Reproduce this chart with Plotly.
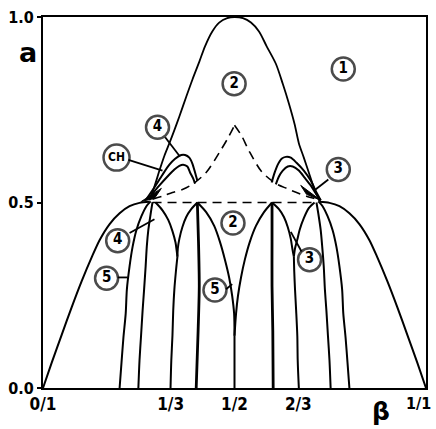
import plotly.graph_objects as go

# ---- phase boundaries in the (beta, a) plane ----
# outer boundary of region 1 below a = 1/2
outer_left_beta = [0.000, 0.023, 0.049, 0.075, 0.101, 0.127, 0.148, 0.174, 0.200, 0.226, 0.252, 0.278]
outer_left_a = [0.000, 0.069, 0.144, 0.218, 0.288, 0.352, 0.399, 0.442, 0.471, 0.490, 0.499, 0.502]
outer_right_beta = [0.722, 0.748, 0.774, 0.800, 0.826, 0.852, 0.873, 0.899, 0.925, 0.951, 0.977, 1.000]
outer_right_a = [0.502, 0.499, 0.490, 0.471, 0.442, 0.399, 0.352, 0.288, 0.218, 0.144, 0.069, 0.000]

# bell-shaped boundary of region 2 above a = 1/2
bell_beta = [0.278, 0.291, 0.304, 0.317, 0.330, 0.343, 0.356, 0.374, 0.390, 0.408, 0.423, 0.442, 0.460,
             0.481, 0.500, 0.522, 0.543, 0.564, 0.584, 0.608, 0.626, 0.642, 0.657, 0.668, 0.681, 0.694,
             0.709, 0.722]
bell_a = [0.506, 0.543, 0.586, 0.626, 0.660, 0.695, 0.732, 0.785, 0.831, 0.879, 0.921, 0.961, 0.985,
          0.997, 1.000, 0.997, 0.985, 0.961, 0.921, 0.874, 0.820, 0.767, 0.711, 0.660, 0.621, 0.581,
          0.535, 0.503]

# dashed cusp curve and dashed line a = 1/2
cusp_left_beta = [0.286, 0.312, 0.338, 0.364, 0.390, 0.426, 0.460, 0.483, 0.500]
cusp_left_a = [0.509, 0.517, 0.527, 0.535, 0.549, 0.581, 0.634, 0.674, 0.708]
cusp_right_beta = [0.500, 0.519, 0.538, 0.571, 0.608, 0.636, 0.662, 0.688, 0.714]
cusp_right_a = [0.708, 0.679, 0.639, 0.583, 0.551, 0.538, 0.527, 0.517, 0.509]
half_beta = [0.286, 0.714]
half_a = [0.500, 0.500]

# lines leaving the a = 0 axis at the rationals
line15_beta = [0.200, 0.205, 0.210, 0.216, 0.219, 0.226, 0.234, 0.244, 0.257, 0.270, 0.281]
line15_a = [0.000, 0.069, 0.136, 0.202, 0.266, 0.328, 0.381, 0.426, 0.463, 0.490, 0.503]
line14_beta = [0.249, 0.252, 0.256, 0.260, 0.264, 0.268, 0.271, 0.275, 0.281, 0.286]
line14_a = [0.000, 0.075, 0.141, 0.208, 0.266, 0.328, 0.381, 0.426, 0.469, 0.501]
trunk13_beta = [0.333, 0.335, 0.338, 0.340, 0.343, 0.347, 0.351]
trunk13_a = [0.000, 0.075, 0.141, 0.208, 0.266, 0.314, 0.354]
v13_left_beta = [0.294, 0.312, 0.327, 0.338, 0.346, 0.349, 0.351]
v13_left_a = [0.500, 0.479, 0.453, 0.423, 0.392, 0.370, 0.354]
line25_beta = [0.400, 0.405, 0.408, 0.406, 0.403]
line25_a = [0.000, 0.154, 0.274, 0.394, 0.500]
arch25_left_beta = [0.403, 0.387, 0.374, 0.364, 0.356, 0.352, 0.351]
arch25_left_a = [0.500, 0.482, 0.461, 0.434, 0.402, 0.376, 0.354]
arch25_right_beta = [0.403, 0.426, 0.447, 0.462, 0.475, 0.486, 0.494, 0.499, 0.500]
arch25_right_a = [0.500, 0.474, 0.437, 0.394, 0.346, 0.298, 0.248, 0.200, 0.141]
trunk12_beta = [0.500, 0.500]
trunk12_a = [0.000, 0.141]
arch35_left_beta = [0.598, 0.577, 0.556, 0.540, 0.527, 0.517, 0.509, 0.504, 0.500]
arch35_left_a = [0.500, 0.474, 0.437, 0.394, 0.346, 0.298, 0.248, 0.200, 0.141]
line35_beta = [0.601, 0.600, 0.598, 0.598, 0.598]
line35_a = [0.000, 0.154, 0.274, 0.394, 0.500]
arch35_right_beta = [0.598, 0.616, 0.629, 0.639, 0.647, 0.651, 0.655]
arch35_right_a = [0.500, 0.482, 0.461, 0.434, 0.402, 0.376, 0.354]
trunk23_beta = [0.668, 0.665, 0.664, 0.661, 0.658, 0.656, 0.655]
trunk23_a = [0.000, 0.075, 0.141, 0.208, 0.266, 0.314, 0.354]
v23_right_beta = [0.655, 0.658, 0.664, 0.670, 0.681, 0.694, 0.709]
v23_right_a = [0.354, 0.376, 0.400, 0.426, 0.458, 0.485, 0.500]
line34_beta = [0.751, 0.748, 0.744, 0.740, 0.736, 0.733, 0.729, 0.725, 0.719, 0.714]
line34_a = [0.000, 0.075, 0.141, 0.208, 0.266, 0.328, 0.381, 0.426, 0.469, 0.500]
line45_beta = [0.800, 0.795, 0.790, 0.784, 0.781, 0.774, 0.766, 0.756, 0.743, 0.730, 0.719]
line45_a = [0.000, 0.069, 0.136, 0.202, 0.266, 0.328, 0.381, 0.426, 0.463, 0.490, 0.503]

# small lobes above a = 1/2 (regions 3, 4 and CH)
lobe_lo_beta = [0.270, 0.291, 0.312, 0.330, 0.345, 0.361, 0.371, 0.382, 0.390, 0.397, 0.403]
lobe_lo_a = [0.509, 0.541, 0.575, 0.602, 0.618, 0.628, 0.628, 0.621, 0.605, 0.581, 0.559]
lobe_li_beta = [0.278, 0.304, 0.325, 0.343, 0.356, 0.366, 0.377, 0.384, 0.392, 0.397]
lobe_li_a = [0.514, 0.546, 0.570, 0.589, 0.599, 0.602, 0.597, 0.581, 0.565, 0.551]
lobe_ro_beta = [0.597, 0.605, 0.613, 0.623, 0.634, 0.647, 0.662, 0.681, 0.699, 0.714, 0.725]
lobe_ro_a = [0.554, 0.581, 0.602, 0.618, 0.623, 0.621, 0.607, 0.586, 0.559, 0.527, 0.506]
lobe_ri_beta = [0.608, 0.616, 0.626, 0.639, 0.652, 0.668, 0.683, 0.699, 0.714, 0.725]
lobe_ri_a = [0.549, 0.570, 0.586, 0.597, 0.597, 0.586, 0.567, 0.546, 0.522, 0.506]
wedge_left_beta = [0.257, 0.309, 0.291, 0.257]
wedge_left_a = [0.503, 0.538, 0.511, 0.503]
wedge_right_beta = [0.673, 0.725, 0.688, 0.673]
wedge_right_a = [0.546, 0.506, 0.522, 0.546]

# circled region labels
label_text = ["1", "2", "4", "CH", "3", "4", "2", "5", "5", "3"]
label_beta = [0.784, 0.499, 0.299, 0.192, 0.771, 0.195, 0.496, 0.166, 0.449, 0.696]
label_a = [0.860, 0.820, 0.703, 0.621, 0.589, 0.397, 0.445, 0.296, 0.264, 0.346]
# leader lines: (beta0, a0, beta1, a1)
leaders = [
    (0.319, 0.676, 0.356, 0.626),
    (0.223, 0.615, 0.312, 0.586),
    (0.745, 0.562, 0.709, 0.533),
    (0.226, 0.418, 0.291, 0.455),
    (0.195, 0.298, 0.221, 0.298),
    (0.478, 0.266, 0.494, 0.280),
    (0.675, 0.368, 0.647, 0.421),
]

x_tickvals = [0, 1 / 3, 1 / 2, 2 / 3]
x_ticktext = ["0/1", "1/3", "1/2", "2/3"]
y_tickvals = [0, 0.5, 1]
y_ticktext = ["0.0", "0.5", "1.0"]

FONT = "DejaVu Sans Condensed, Liberation Sans Narrow, DejaVu Sans, sans-serif"


def bold(s):
    return "<b>" + s + "</b>"


fig = go.Figure()


def curve(beta, a, width=2.0, dash="solid"):
    fig.add_trace(go.Scatter(
        x=beta, y=a, mode="lines",
        line=dict(color="black", width=width, dash=dash, shape="spline", smoothing=0.8),
        hoverinfo="skip", showlegend=False, cliponaxis=True,
    ))


curve(outer_left_beta, outer_left_a)
curve(outer_right_beta, outer_right_a)
curve(bell_beta, bell_a, width=1.8)
curve(cusp_left_beta, cusp_left_a, width=1.6, dash="9px,6px")
curve(cusp_right_beta, cusp_right_a, width=1.6, dash="9px,6px")
curve(half_beta, half_a, width=1.6, dash="9px,6px")

for b, a in [
    (line15_beta, line15_a), (line14_beta, line14_a),
    (trunk13_beta, trunk13_a), (v13_left_beta, v13_left_a),
    (arch25_left_beta, arch25_left_a), (arch25_right_beta, arch25_right_a),
    (trunk12_beta, trunk12_a), (arch35_left_beta, arch35_left_a),
    (arch35_right_beta, arch35_right_a), (trunk23_beta, trunk23_a),
    (v23_right_beta, v23_right_a), (line34_beta, line34_a), (line45_beta, line45_a),
]:
    curve(b, a, width=2.0)

curve(line25_beta, line25_a, width=2.8)
curve(line35_beta, line35_a, width=2.8)

for b, a in [(lobe_lo_beta, lobe_lo_a), (lobe_li_beta, lobe_li_a),
             (lobe_ro_beta, lobe_ro_a), (lobe_ri_beta, lobe_ri_a)]:
    curve(b, a, width=2.0)

for b, a in [(wedge_left_beta, wedge_left_a), (wedge_right_beta, wedge_right_a)]:
    fig.add_trace(go.Scatter(x=b, y=a, mode="lines", fill="toself", fillcolor="black",
                             line=dict(color="black", width=1), hoverinfo="skip", showlegend=False))

# leader lines from labels into their regions
for b0, a0, b1, a1 in leaders:
    fig.add_shape(type="line", x0=b0, y0=a0, x1=b1, y1=a1, xref="x", yref="y",
                  line=dict(color="black", width=1.8))

sizes = [26 if t == "CH" else 23 for t in label_text]
fig.add_trace(go.Scatter(
    x=label_beta, y=label_a, mode="markers+text", text=[bold(t) for t in label_text],
    textposition="middle center",
    textfont=dict(family=FONT, size=[12 if t == "CH" else 15 for t in label_text], color="black"),
    marker=dict(symbol="circle", size=sizes, color="white",
                line=dict(color="black", width=2.5)),
    hoverinfo="skip", showlegend=False, cliponaxis=False,
))

# axis titles and the last beta label (placed in paper coordinates)
fig.add_annotation(x=-0.039, y=0.904, xref="paper", yref="paper", text="<b>a</b>", showarrow=False,
                   font=dict(family="DejaVu Sans, sans-serif", size=27, color="black"),
                   xanchor="center", yanchor="middle")
fig.add_annotation(x=0.883, y=-0.062, xref="paper", yref="paper", text="<b>β</b>", showarrow=False,
                   font=dict(family="DejaVu Sans, sans-serif", size=25, color="black"),
                   xanchor="center", yanchor="middle")
fig.add_annotation(x=1.0195, y=-0.041, xref="paper", yref="paper", text=bold("1/1"), showarrow=False,
                   font=dict(family=FONT, size=16, color="black"),
                   xanchor="right", yanchor="middle")

fig.update_xaxes(range=[0, 1], tickvals=x_tickvals, ticktext=[bold(t) for t in x_ticktext],
                 showgrid=False, zeroline=False, showline=True, linecolor="black", linewidth=2,
                 mirror=True, ticks="", tickfont=dict(family=FONT, size=17, color="black"))
fig.update_yaxes(range=[0, 1], tickvals=y_tickvals, ticktext=[bold(t) for t in y_ticktext],
                 showgrid=False, zeroline=False, showline=True, linecolor="black", linewidth=2,
                 mirror=True, ticks="outside", ticklen=4, tickwidth=2, tickcolor="black",
                 tickfont=dict(family=FONT, size=16, color="black"))

fig.update_layout(
    width=436, height=429,
    margin=dict(l=43, r=8, t=13, b=41),
    paper_bgcolor="white", plot_bgcolor="white",
    showlegend=False,
)

fig.write_html("out.html")
